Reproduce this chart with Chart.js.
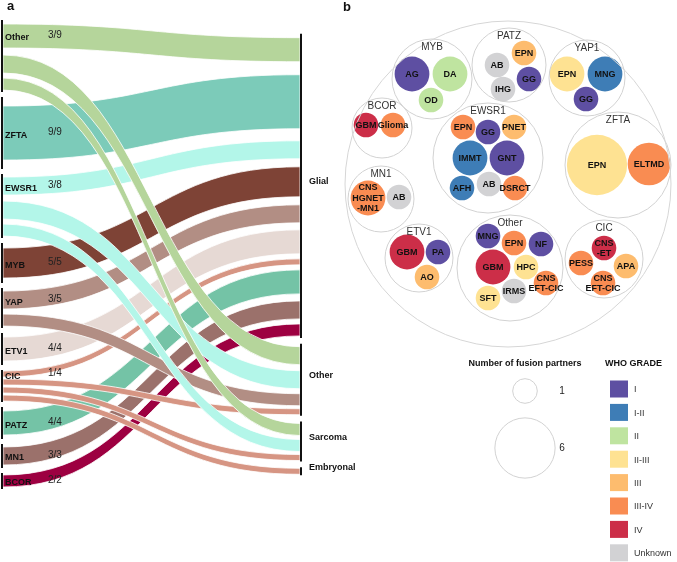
<!DOCTYPE html>
<html>
<head>
<meta charset="utf-8">
<script src="https://cdn.jsdelivr.net/npm/chart.js@4.4.0/dist/chart.umd.min.js"></script>
<style>
  html, body { margin: 0; padding: 0; background: #fff; overflow: hidden; }
  #wrap { position: relative; width: 677px; height: 562px; }
  #sankey { position: absolute; left: 0; top: 0; }
  #packs { position: absolute; left: 330px; top: 0; }
</style>
</head>
<body>
<div id="wrap">
  <canvas id="sankey" width="360" height="562"></canvas>
  <canvas id="packs" width="347" height="562"></canvas>
</div>
<script>
const FONT = '"Liberation Sans", Arial, sans-serif';

// ---- Panel a: fusion gene -> tumour type (cases) ----
const fusionGenes = ['Other', 'ZFTA', 'EWSR1', 'MYB', 'YAP', 'ETV1', 'CIC', 'PATZ', 'MN1', 'BCOR'];
const glialShare = ['3/9', '9/9', '3/8', '5/5', '3/5', '4/4', '1/4', '4/4', '3/3', '2/2'];
const tumourTypes = ['Glial', 'Other', 'Sarcoma', 'Embryonal'];
const casesGlial = [4, 9, 3, 5, 3, 4, 1, 4, 3, 2];
const casesOther = [3, 0, 3, 0, 2, 0, 1, 0, 0, 0];
const casesSarcoma = [2, 0, 2, 0, 0, 0, 1, 0, 0, 0];
const casesEmbryonal = [0, 0, 0, 0, 0, 0, 1, 0, 0, 0];

const geneColours = ['#b5d59b', '#7ccbb9', '#b3f6e9', '#7e4336', '#b28e84',
                     '#e6d9d4', '#d69583', '#74c3a6', '#9b716b', '#9d0041'];

// ---- Panel b: circle packing of tumour entities per fusion gene ----
const packGenes = ['MYB', 'PATZ', 'YAP1', 'BCOR', 'EWSR1', 'ZFTA', 'MN1', 'ETV1', 'Other', 'CIC'];
const packGeneX = [-76, 1, 79, -126, -20, 110, -127, -89, 2, 96];
const packGeneY = [-105, -119, -106, -56, -26, -19, 15, 74, 84, 75];
const packGeneR = [40, 37, 38, 30, 55, 53, 33, 34, 53, 39];

const tumourLabels = ['AG', 'DA', 'OD',
  'EPN', 'AB', 'GG', 'IHG',
  'EPN', 'MNG', 'GG',
  'GBM', 'Glioma',
  'EPN', 'GG', 'PNET', 'IMMT', 'GNT', 'AFH', 'AB', 'DSRCT',
  'EPN', 'ELTMD',
  'CNS\nHGNET\n-MN1', 'AB',
  'GBM', 'PA', 'AO',
  'MNG', 'EPN', 'NF', 'GBM', 'HPC', 'CNS\nEFT-CIC', 'SFT', 'IRMS',
  'CNS\n-ET', 'PESS', 'APA', 'CNS\nEFT-CIC'];
const tumourGrade = ['I', 'II', 'II',
  'III', 'Unknown', 'I', 'Unknown',
  'II-III', 'I-II', 'I',
  'IV', 'III-IV',
  'III-IV', 'I', 'III', 'I-II', 'I', 'I-II', 'Unknown', 'III-IV',
  'II-III', 'III-IV',
  'III-IV', 'Unknown',
  'IV', 'I', 'III',
  'I', 'III-IV', 'I', 'IV', 'II-III', 'III-IV', 'II-III', 'Unknown',
  'IV', 'III-IV', 'III', 'III-IV'];
const tumourPartners = [2, 2, 1, 1, 1, 1, 1, 2, 2, 1, 1, 1,
  1, 1, 1, 2, 2, 1, 1, 1, 6, 3, 2, 1, 2, 1, 1,
  1, 1, 1, 2, 1, 1, 1, 1, 1, 1, 1, 1];
const tumourX = [-96, -58, -77, 16, -11, 21, -5, 59, 97, 78, -142, -115,
  -45, -20, 6, -38, -1, -46, -19, 7, 89, 141, -140, -109, -101, -70, -81,
  -20, 6, 33, -15, 18, 38, -20, 6, 96, 73, 118, 95];
const tumourY = [-110, -110, -84, -131, -119, -105, -95, -110, -110, -85, -59, -59,
  -57, -52, -57, -26, -26, 4, 0, 4, -19, -20, 14, 13, 68, 68, 93,
  52, 59, 60, 83, 83, 99, 114, 107, 64, 79, 82, 99];

const gradeLevels = ['I', 'I-II', 'II', 'II-III', 'III', 'III-IV', 'IV', 'Unknown'];
const gradeColours = ['#5e4fa2', '#3e7db6', '#bfe4a0', '#fee292', '#fdbc6e', '#f98c52', '#cc2e48', '#d2d2d4'];
const legendPartners = [1, 6];

// ---------- sankey layout (in case units) ----------
const NODE_GAP_LEFT = 0.62;
const NODE_GAP_RIGHT = 0.72;
const LINK_SHARE = 0.75;

const flowsByTarget = [casesGlial, casesOther, casesSarcoma, casesEmbryonal];
const geneTotals = fusionGenes.map((_, s) => flowsByTarget.reduce((t, row) => t + row[s], 0));
const typeTotals = flowsByTarget.map(row => row.reduce((a, b) => a + b, 0));
const sum = arr => arr.reduce((a, b) => a + b, 0);
const leftSpan = sum(geneTotals) + NODE_GAP_LEFT * (fusionGenes.length - 1);
const rightSpan = sum(typeTotals) + NODE_GAP_RIGHT * (tumourTypes.length - 1);

const geneTop = [];
let acc = 0;
geneTotals.forEach(v => { geneTop.push(acc); acc += v + NODE_GAP_LEFT; });
const typeTop = [];
acc = (leftSpan - rightSpan) / 2;
typeTotals.forEach(v => { typeTop.push(acc); acc += v + NODE_GAP_RIGHT; });

const leftSlot = {};
fusionGenes.forEach((g, s) => {
    let c = geneTop[s];
    flowsByTarget.forEach((row, t) => { if (row[s]) { leftSlot[s + '-' + t] = c; c += row[s]; } });
});
const rightSlot = {};
tumourTypes.forEach((tt, t) => {
    let c = typeTop[t];
    fusionGenes.forEach((g, s) => {
        const v = flowsByTarget[t][s];
        if (v) { rightSlot[s + '-' + t] = c; c += v; }
    });
});
const links = [];
flowsByTarget.forEach((row, t) => row.forEach((v, s) => {
    if (v) links.push({ s, t, v, y0: leftSlot[s + '-' + t], y1: rightSlot[s + '-' + t] });
}));

const sankeyPlugin = {
    id: 'sankeyFlows',
    afterDatasetsDraw(chart) {
        const { ctx, scales: { x, y } } = chart;
        const x0 = x.getPixelForValue(0), x1 = x.getPixelForValue(1), xm = (x0 + x1) / 2;
        ctx.save();

        // ribbons
        links.forEach(l => {
            const pad = l.v * (1 - LINK_SHARE) / 2;
            const a0 = y.getPixelForValue(l.y0 + pad), b0 = y.getPixelForValue(l.y0 + l.v - pad);
            const a1 = y.getPixelForValue(l.y1 + pad), b1 = y.getPixelForValue(l.y1 + l.v - pad);
            ctx.beginPath();
            ctx.moveTo(x0, a0);
            ctx.bezierCurveTo(xm, a0, xm, a1, x1, a1);
            ctx.lineTo(x1, b1);
            ctx.bezierCurveTo(xm, b1, xm, b0, x0, b0);
            ctx.closePath();
            ctx.fillStyle = geneColours[l.s];
            ctx.fill();
            ctx.strokeStyle = '#ffffff';
            ctx.lineWidth = 0.8;
            ctx.stroke();
        });

        // node bars
        ctx.strokeStyle = '#111';
        ctx.lineWidth = 2;
        geneTotals.forEach((v, s) => {
            ctx.beginPath();
            ctx.moveTo(x0 - 1, y.getPixelForValue(geneTop[s]));
            ctx.lineTo(x0 - 1, y.getPixelForValue(geneTop[s] + v));
            ctx.stroke();
        });
        typeTotals.forEach((v, t) => {
            ctx.beginPath();
            ctx.moveTo(x1 + 1, y.getPixelForValue(typeTop[t]));
            ctx.lineTo(x1 + 1, y.getPixelForValue(typeTop[t] + v));
            ctx.stroke();
        });

        // labels
        ctx.textBaseline = 'middle';
        ctx.textAlign = 'left';
        fusionGenes.forEach((g, s) => {
            const firstT = flowsByTarget.findIndex(row => row[s] > 0);
            const firstV = flowsByTarget[firstT][s];
            const cy = y.getPixelForValue(geneTop[s] + firstV / 2) + 2;
            ctx.fillStyle = '#111';
            ctx.font = 'bold 9px ' + FONT;
            ctx.fillText(g, x0 + 2, cy);
            ctx.fillStyle = '#222';
            ctx.font = '10px ' + FONT;
            ctx.fillText(glialShare[s], x0 + 45, cy - 3);
        });
        ctx.fillStyle = '#111';
        ctx.font = 'bold 9px ' + FONT;
        tumourTypes.forEach((tt, t) => {
            const cy = y.getPixelForValue(typeTop[t] + typeTotals[t] / 2) - 4;
            ctx.fillText(tt, x1 + 9, cy);
        });

        ctx.font = 'bold 13px ' + FONT;
        ctx.fillText('a', 7, 6);
        ctx.restore();
    }
};

new Chart(document.getElementById('sankey'), {
    type: 'scatter',
    data: { datasets: [] },
    options: {
        responsive: false,
        animation: false,
        events: [],
        layout: { autoPadding: false, padding: { left: 3, right: 60, top: 20, bottom: 73 } },
        scales: {
            x: { type: 'linear', min: 0, max: 1, display: false },
            y: { type: 'linear', min: 0, max: leftSpan, reverse: true, display: false }
        },
        plugins: { legend: { display: false }, tooltip: { enabled: false } }
    },
    plugins: [sankeyPlugin]
});

// ---------- panel b ----------
// pack coordinates are 1 unit = 1 px with the scale ranges below
const partnerRadius = n => 12.3 * Math.sqrt(n);
const gradeColour = g => gradeColours[gradeLevels.indexOf(g)];

const leafData = tumourLabels.map((lab, i) => ({ x: tumourX[i], y: tumourY[i], r: partnerRadius(tumourPartners[i]) }));
const groupData = packGenes.map((g, i) => ({ x: packGeneX[i], y: packGeneY[i], r: packGeneR[i] }));
const legendSizeX = 17, legendSizeY = [207, 264];

const packPlugin = {
    id: 'packLabels',
    afterDatasetsDraw(chart) {
        const { ctx, scales: { x, y } } = chart;
        ctx.save();
        ctx.textAlign = 'center';
        ctx.textBaseline = 'middle';

        // gene group titles
        ctx.fillStyle = '#333';
        ctx.font = '10px ' + FONT;
        packGenes.forEach((g, i) => {
            ctx.fillText(g, x.getPixelForValue(packGeneX[i]), y.getPixelForValue(packGeneY[i] - packGeneR[i] + 8));
        });

        // tumour labels
        ctx.fillStyle = '#111';
        ctx.font = 'bold 9px ' + FONT;
        tumourLabels.forEach((lab, i) => {
            const lines = lab.split('\n');
            const cx = x.getPixelForValue(tumourX[i]);
            const cy = y.getPixelForValue(tumourY[i]);
            lines.forEach((ln, k) => {
                ctx.fillText(ln, cx, cy + (k - (lines.length - 1) / 2) * 10.5 + 0.5);
            });
        });

        // size legend
        ctx.font = 'bold 9px ' + FONT;
        ctx.fillText('Number of fusion partners', x.getPixelForValue(17), y.getPixelForValue(180));
        ctx.font = '10px ' + FONT;
        ctx.fillStyle = '#222';
        legendPartners.forEach((n, k) => {
            ctx.fillText(String(n), x.getPixelForValue(54), y.getPixelForValue(legendSizeY[k]));
        });

        // grade legend
        ctx.textAlign = 'left';
        ctx.fillStyle = '#111';
        ctx.font = 'bold 9px ' + FONT;
        ctx.fillText('WHO GRADE', x.getPixelForValue(97), y.getPixelForValue(180));
        ctx.font = '9px ' + FONT;
        gradeLevels.forEach((g, k) => {
            const cy = y.getPixelForValue(205 + k * 23.4);
            ctx.fillStyle = gradeColours[k];
            ctx.fillRect(x.getPixelForValue(102), cy - 8.5, 18, 17);
            ctx.fillStyle = '#333';
            ctx.fillText(g, x.getPixelForValue(126), cy + 1);
        });

        ctx.fillStyle = '#111';
        ctx.font = 'bold 13px ' + FONT;
        ctx.fillText('b', 13, 7);
        ctx.restore();
    }
};

new Chart(document.getElementById('packs'), {
    type: 'bubble',
    data: {
        datasets: [
            {
                label: 'all',
                data: [{ x: 0, y: 0, r: 163 }],
                backgroundColor: 'rgba(0,0,0,0)',
                borderColor: '#d6d6d6',
                borderWidth: 1,
                clip: false
            },
            {
                label: 'genes',
                data: groupData,
                backgroundColor: 'rgba(0,0,0,0)',
                borderColor: '#d2d2d2',
                borderWidth: 1,
                clip: false
            },
            {
                label: 'tumours',
                data: leafData,
                backgroundColor: tumourGrade.map(gradeColour),
                borderWidth: 0,
                clip: false
            },
            {
                label: 'size legend',
                data: legendPartners.map((n, k) => ({ x: legendSizeX, y: legendSizeY[k], r: partnerRadius(n) })),
                backgroundColor: 'rgba(0,0,0,0)',
                borderColor: '#d2d2d2',
                borderWidth: 1,
                clip: false
            }
        ]
    },
    options: {
        responsive: false,
        animation: false,
        events: [],
        layout: { autoPadding: false, padding: 0 },
        scales: {
            x: { type: 'linear', min: -178, max: 169, display: false },
            y: { type: 'linear', min: -184, max: 378, reverse: true, display: false }
        },
        plugins: { legend: { display: false }, tooltip: { enabled: false } }
    },
    plugins: [packPlugin]
});
</script>
</body>
</html>
